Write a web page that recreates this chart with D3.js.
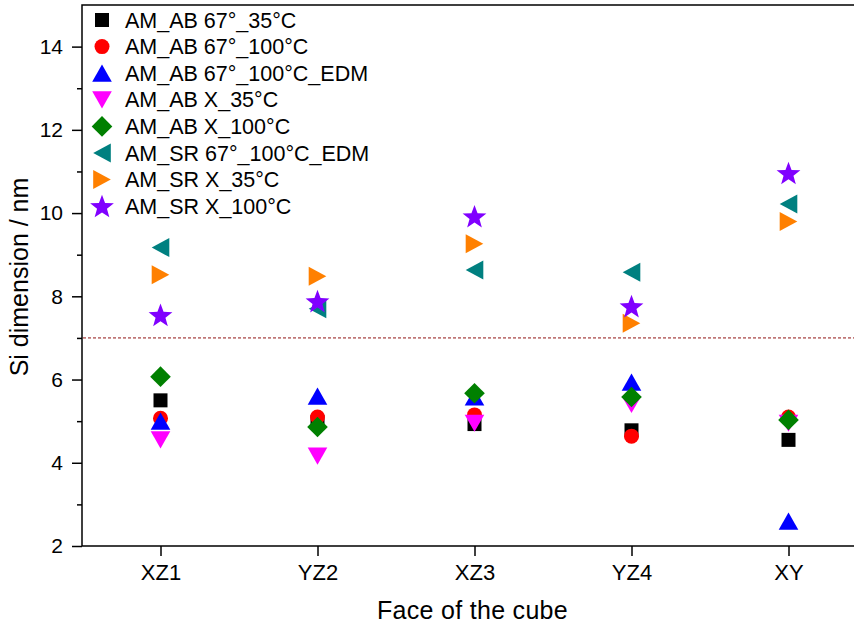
<!DOCTYPE html>
<html>
<head>
<meta charset="utf-8">
<script src="https://cdn.jsdelivr.net/npm/d3@7"></script>
<style>
  html, body { margin: 0; padding: 0; background: #fff; overflow: hidden; }
  svg { display: block; font-family: "Liberation Sans", Arial, sans-serif; }
</style>
</head>
<body>
<svg id="chart" width="854" height="624"></svg>
<script>
// Faces of the cube (x categories)
const categories = ["XZ1", "YZ2", "XZ3", "YZ4", "XY"];

// Si dimension (nm) per face, one array per sample condition
const amAb67_35 = [5.5, 4.98, 4.93, 4.78, 4.55];
const amAb67_100 = [5.07, 5.1, 5.15, 4.64, 5.1];
const amAb67_100Edm = [5.0, 5.6, 5.58, 5.94, 2.6];
const amAbX_35 = [4.55, 4.16, 4.95, 5.4, 4.95];
const amAbX_100 = [6.07, 4.86, 5.67, 5.58, 5.03];
const amSr67_100Edm = [9.17, 7.7, 8.63, 8.58, 10.22];
const amSrX_35 = [8.52, 8.48, 9.26, 7.35, 9.8];
const amSrX_100 = [7.55, 7.88, 9.92, 7.76, 10.96];

const seriesNames = [
  "AM_AB 67°_35°C", "AM_AB 67°_100°C", "AM_AB 67°_100°C_EDM", "AM_AB X_35°C",
  "AM_AB X_100°C", "AM_SR 67°_100°C_EDM", "AM_SR X_35°C", "AM_SR X_100°C"
];
const seriesValues = [amAb67_35, amAb67_100, amAb67_100Edm, amAbX_35,
  amAbX_100, amSr67_100Edm, amSrX_35, amSrX_100];

// Reference level
const thresholdValue = [7];

// Y axis ticks
const yMajorTicks = [2, 4, 6, 8, 10, 12, 14];
const yMinorTicks = [3, 5, 7, 9, 11, 13];

const colors = ["#000000", "#ff0000", "#0000ff", "#ff00ff", "#008000", "#008080", "#ff8000", "#8000ff"];
const shapes = ["square", "circle", "up", "down", "diamond", "left", "right", "star"];

// Marker path generators, centred on the bounding box
function markerPath(shape) {
  switch (shape) {
    case "square": { const h = 7; return `M${-h},${-h}H${h}V${h}H${-h}Z`; }
    case "circle": { const r = 7.5; return `M${r},0A${r},${r} 0 1,1 ${-r},0A${r},${r} 0 1,1 ${r},0Z`; }
    case "up": { const w = 9.8, h = 8.6; return `M0,${-h}L${w},${h}L${-w},${h}Z`; }
    case "down": { const w = 9.8, h = 8.6; return `M0,${h}L${w},${-h}L${-w},${-h}Z`; }
    case "left": { const w = 9.5, h = 8.8; return `M${-h},0L${h},${-w}L${h},${w}Z`; }
    case "right": { const w = 9.5, h = 8.8; return `M${h},0L${-h},${-w}L${-h},${w}Z`; }
    case "diamond": { const r = 10.3; return `M0,${-r}L${r},0L0,${r}L${-r},0Z`; }
    case "star": {
      const R = 12.5, r = 5.2, pts = [];
      for (let i = 0; i < 10; i++) {
        const a = -Math.PI / 2 + i * Math.PI / 5;
        const rr = i % 2 === 0 ? R : r;
        pts.push([rr * Math.cos(a), rr * Math.sin(a) + 1]);
      }
      return "M" + pts.map(p => p[0].toFixed(2) + "," + p[1].toFixed(2)).join("L") + "Z";
    }
  }
}

const svg = d3.select("#chart");
const plotLeft = 82, plotTop = 5, plotBottom = 546;

// Categories sit at 1..5; axis spans 0.5..5.5 (right end runs past the view)
const x = d3.scaleLinear().domain([0.5, 5.5]).range([plotLeft, plotLeft + 5 * 157]);
const y = d3.scaleLinear().domain([2, 15]).range([plotBottom, plotTop]);
const xRight = x(5.5);

// Axis frame: left, top and bottom lines
svg.append("path")
  .attr("d", `M${xRight},${y(15)}H${plotLeft}V${plotBottom}H${xRight}`)
  .attr("fill", "none").attr("stroke", "#000").attr("stroke-width", 1.5);

// Y axis ticks and labels
const gy = svg.append("g").attr("transform", `translate(${plotLeft},0)`)
  .call(d3.axisLeft(y).tickValues(yMajorTicks).tickSize(10).tickPadding(9).tickFormat(d3.format("d")));
gy.select(".domain").remove();
gy.selectAll(".tick line").attr("stroke-width", 1.5);
gy.selectAll(".tick text").attr("font-size", 21).attr("font-family", "Liberation Sans, Arial, sans-serif").attr("fill", "#000");
const gyMinor = svg.append("g").attr("transform", `translate(${plotLeft},0)`)
  .call(d3.axisLeft(y).tickValues(yMinorTicks).tickSize(5).tickFormat(""));
gyMinor.select(".domain").remove();
gyMinor.selectAll(".tick line").attr("stroke-width", 1.5);

// X axis ticks and labels
const gx = svg.append("g").attr("transform", `translate(0,${plotBottom})`)
  .call(d3.axisBottom(x).tickValues(d3.range(1, categories.length + 1))
    .tickFormat(d => categories[d - 1]).tickSize(10).tickPadding(8));
gx.select(".domain").remove();
gx.selectAll(".tick line").attr("stroke-width", 1.5);
gx.selectAll(".tick text").attr("font-size", 22).attr("font-family", "Liberation Sans, Arial, sans-serif").attr("fill", "#000");

// Axis titles
svg.append("text").attr("x", x(3) - 2).attr("y", 619).attr("text-anchor", "middle")
  .attr("font-size", 25).attr("letter-spacing", 0.3).text("Face of the cube");
svg.append("text").attr("transform", `translate(28,${(378 + 176) / 2}) rotate(-90)`)
  .attr("text-anchor", "middle").attr("font-size", 25).text("Si dimension / nm");

// Dashed reference line
svg.selectAll(".ref").data(thresholdValue).enter().append("line").attr("class", "ref")
  .attr("x1", plotLeft + 1).attr("x2", xRight).attr("y1", d => y(d)).attr("y2", d => y(d))
  .attr("stroke", "#c07878").attr("stroke-width", 1.6).attr("stroke-dasharray", "3,2");

// Data markers
seriesValues.forEach((vals, si) => {
  svg.append("g").selectAll("path").data(vals).enter().append("path")
    .attr("d", markerPath(shapes[si]))
    .attr("transform", (d, i) => `translate(${x(i + 1)},${y(d)})`)
    .attr("fill", colors[si]);
});

// Legend
const legend = svg.append("g");
seriesNames.forEach((name, i) => {
  const cy = 20 + i * 26.6;
  legend.append("path").attr("d", markerPath(shapes[i]))
    .attr("transform", `translate(102,${cy})`).attr("fill", colors[i]);
  legend.append("text").attr("x", 125).attr("y", cy + 7.5).attr("font-size", 21.5).text(name);
});
</script>
</body>
</html>
